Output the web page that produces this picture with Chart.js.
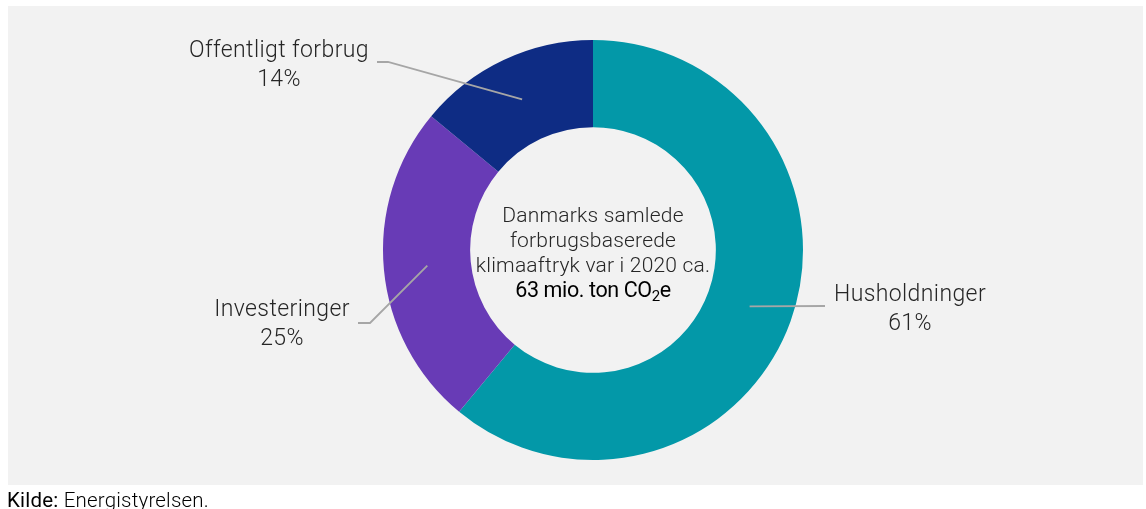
<!DOCTYPE html>
<html>
<head>
    <title>Klimaaftryk fordelt på anvendelse</title>
    <script src="https://cdn.jsdelivr.net/npm/chart.js"></script>
    <style>
        body { margin: 0; background: #fff; font-family: Roboto, sans-serif; }
        #panel { position: absolute; left: 8px; top: 6px; width: 1135px; height: 479px; background: #f2f2f2; }
        #wrap { position: absolute; left: 0; top: 0; width: 1146px; height: 509px; }
        #source { position: absolute; left: 7px; top: 490px; font-size: 20.5px; line-height: 20px; color: #000; font-weight: 300; white-space: nowrap; letter-spacing: 0.2px; }
        #source b { font-weight: 400; }
    </style>
</head>
<body>
    <div id="panel"></div>
    <div id="wrap"><canvas id="chart" width="1146" height="509"></canvas></div>
    <div id="source"><b>Kilde:</b> Energistyrelsen.</div>

    <script>
        // data (pct. of total consumption based footprint, 2020)
        const categories = ['Husholdninger', 'Investeringer', 'Offentligt forbrug'];
        const shares = [61, 25, 14];
        const colors = ['#0398a8', '#683bb6', '#0e2c84'];
        const centerLines = ['Danmarks samlede', 'forbrugsbaserede', 'klimaaftryk var i 2020 ca.'];

        // where each outside label sits, relative to the donut centre
        const labelPlacement = [
            { tx: 317, ty: 45, path: [[232, 56]] },
            { tx: -311, ty: 60, path: [[-223, 73], [-235, 73]] },
            { tx: -314, ty: -199, path: [[-205, -188], [-216, -188]] }
        ];

        const labelPlugin = {
            id: 'donutLabels',
            afterDraw(chart) {
                const ctx = chart.ctx;
                const meta = chart.getDatasetMeta(0);
                const cx = meta.data[0].x, cy = meta.data[0].y;
                ctx.save();
                meta.data.forEach((arc, i) => {
                    const p = arc.tooltipPosition();
                    const lp = labelPlacement[i];
                    ctx.strokeStyle = '#a6a6a6';
                    ctx.lineWidth = 1.8;
                    ctx.beginPath();
                    ctx.moveTo(p.x, p.y);
                    lp.path.forEach(pt => ctx.lineTo(cx + pt[0], cy + pt[1]));
                    ctx.stroke();

                    ctx.fillStyle = '#262626';
                    ctx.font = '300 23px Roboto';
                    ctx.letterSpacing = '0.4px';
                    ctx.textAlign = 'center';
                    ctx.textBaseline = 'middle';
                    ctx.fillText(categories[i], cx + lp.tx, cy + lp.ty);
                    ctx.fillText(shares[i] + '%', cx + lp.tx, cy + lp.ty + 29);
                });

                // text in the hole
                ctx.fillStyle = '#262626';
                ctx.font = '300 21px Roboto';
                ctx.letterSpacing = '0.2px';
                centerLines.forEach((t, k) => ctx.fillText(t, cx, cy - 33 + k * 25));

                ctx.fillStyle = '#000';
                ctx.textAlign = 'left';
                ctx.letterSpacing = '-0.4px';
                const a = '63 mio. ton CO', b = 'e';
                ctx.font = '400 21.5px Roboto';
                const wa = ctx.measureText(a).width, wb = ctx.measureText(b).width;
                ctx.font = '400 15px Roboto';
                const ws = ctx.measureText('2').width;
                let x = cx - (wa + ws + wb) / 2;
                const y = cy + 42;
                ctx.font = '400 21.5px Roboto';
                ctx.fillText(a, x, y);
                x += wa;
                ctx.font = '400 15px Roboto';
                ctx.fillText('2', x, y + 5);
                x += ws;
                ctx.font = '400 21.5px Roboto';
                ctx.fillText(b, x, y);
                ctx.restore();
            }
        };

        new Chart(document.getElementById('chart'), {
            type: 'doughnut',
            data: {
                labels: categories,
                datasets: [{
                    data: shares,
                    backgroundColor: colors,
                    borderWidth: 0
                }]
            },
            options: {
                responsive: false,
                animation: false,
                cutout: '58.5%',
                layout: { padding: { left: 40, right: 0, top: 40, bottom: 49 } },
                plugins: { legend: { display: false }, tooltip: { enabled: false } }
            },
            plugins: [labelPlugin]
        });
    </script>
</body>
</html>
